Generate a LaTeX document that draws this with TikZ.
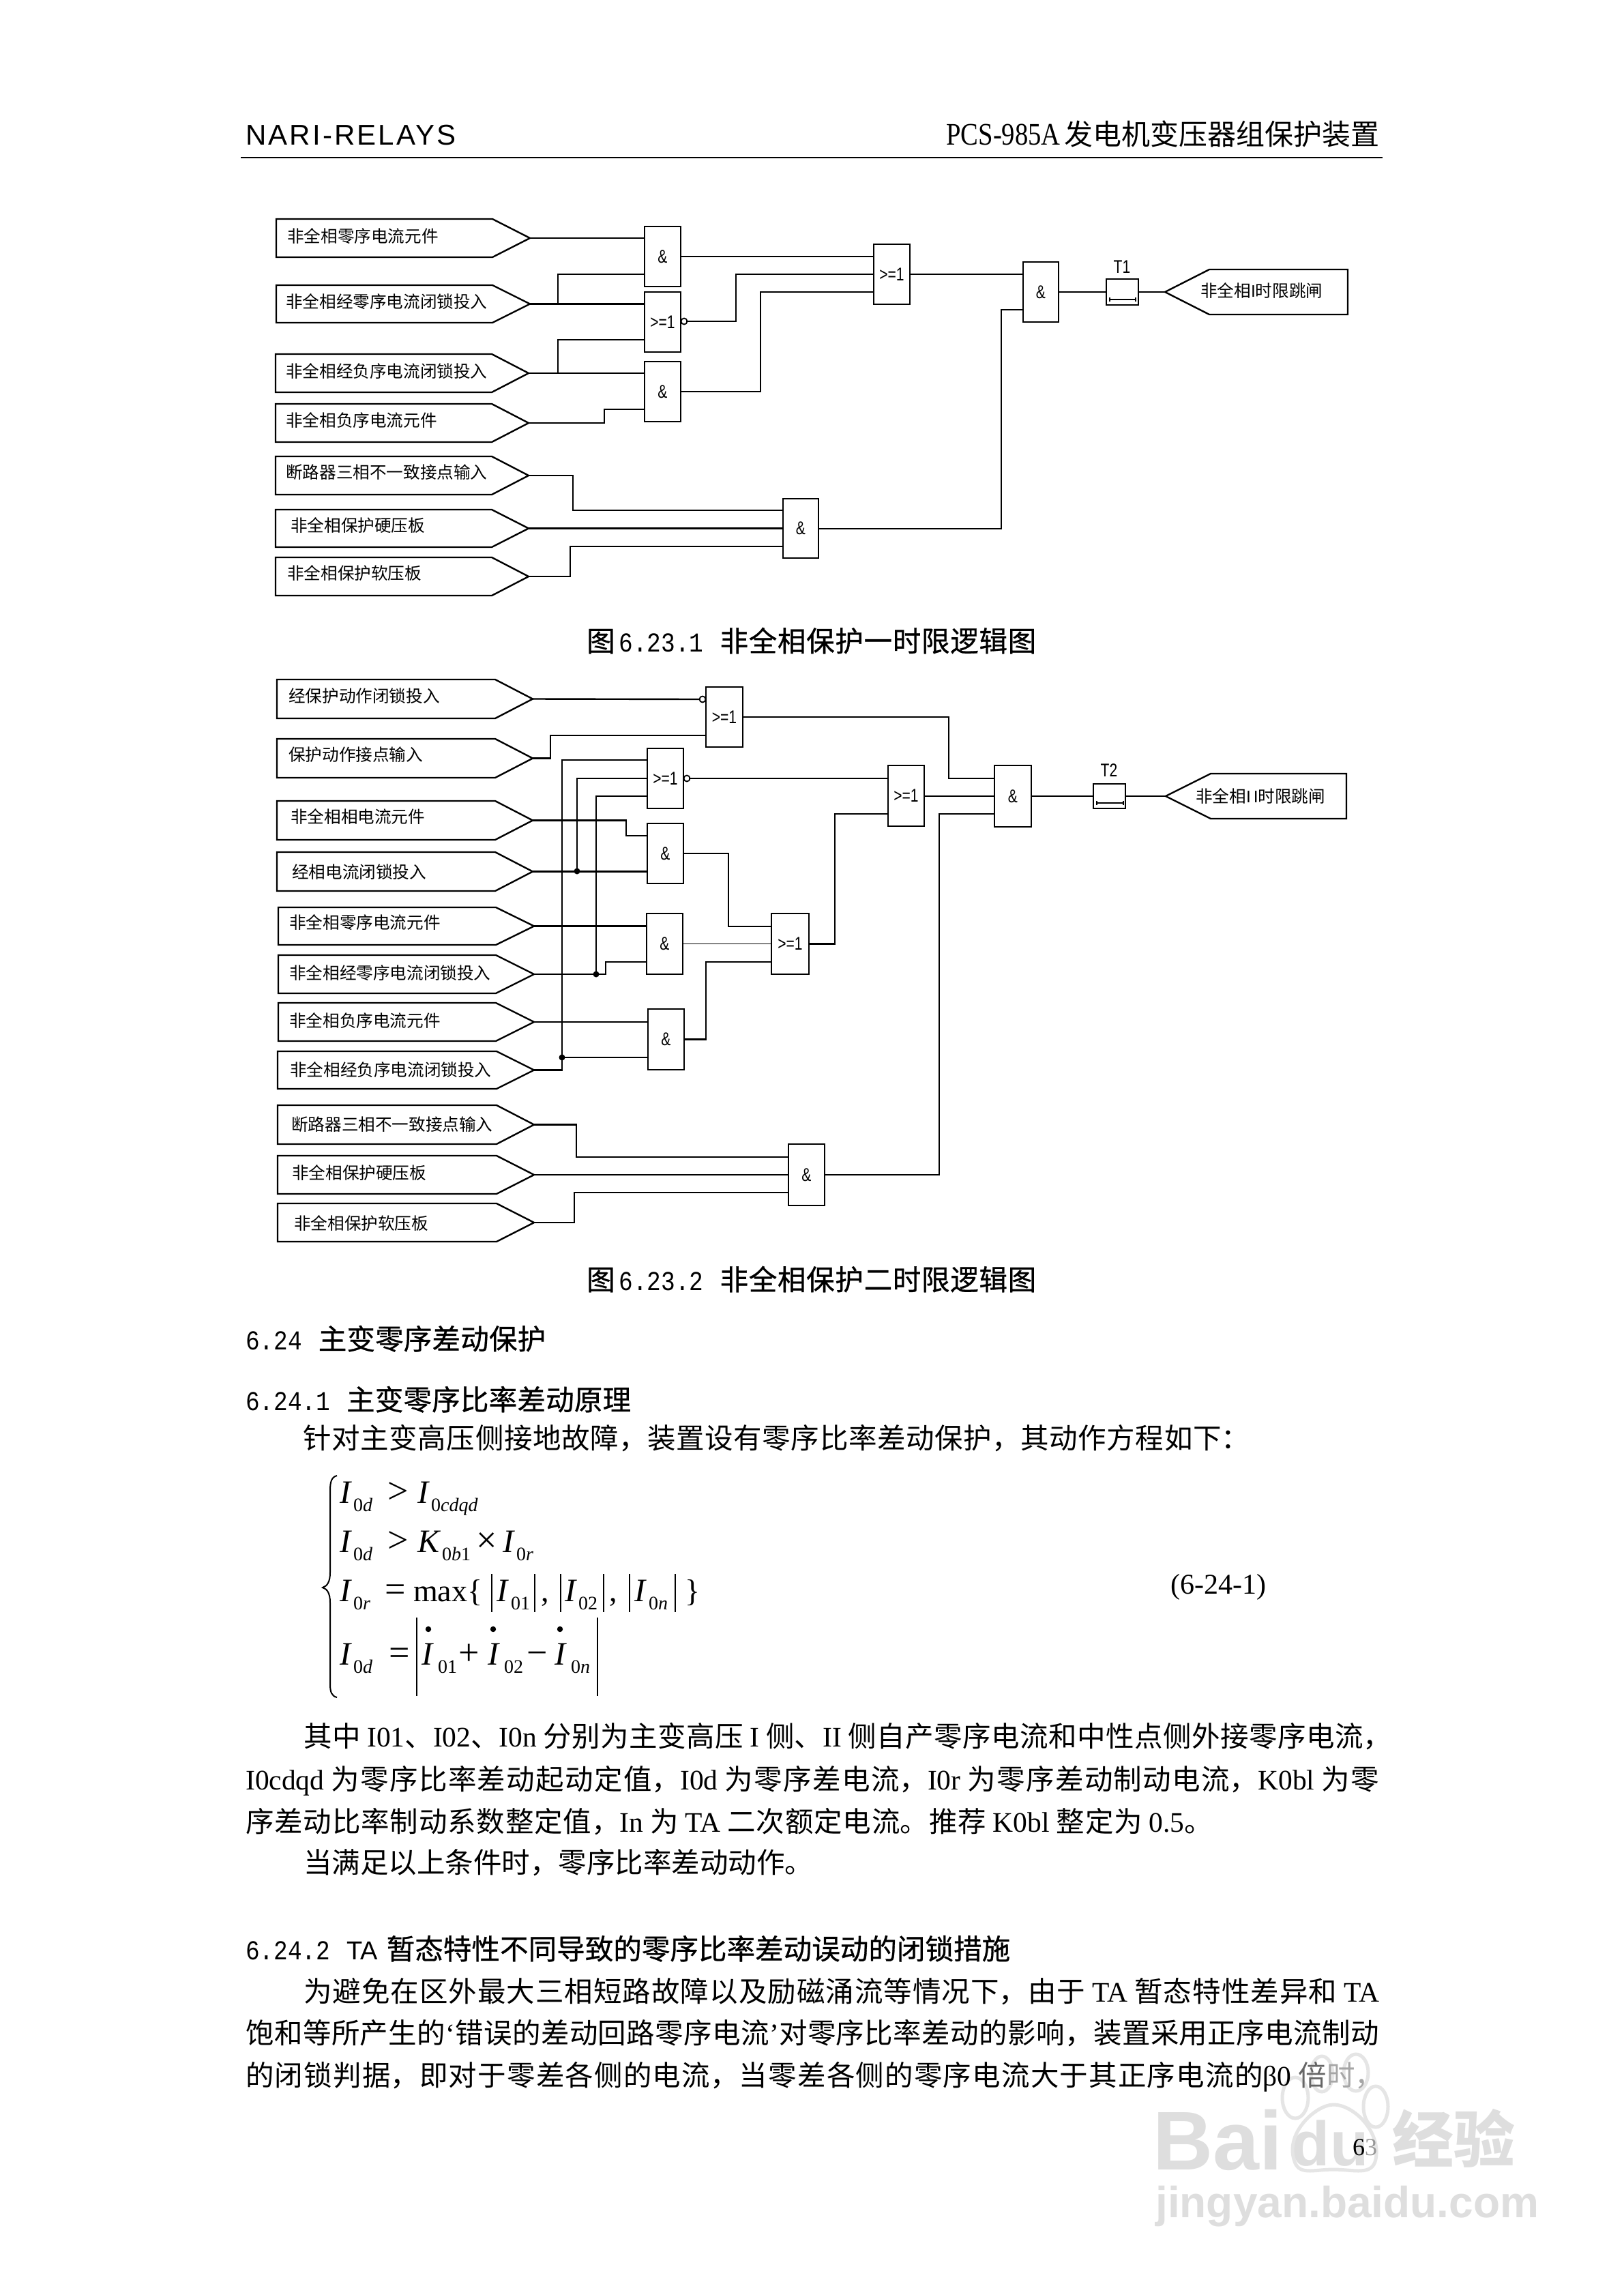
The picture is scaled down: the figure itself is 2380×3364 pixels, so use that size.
\documentclass[tikz,border=0pt]{standalone}
\usepackage{graphicx}
\usepackage{fontspec}
\setmainfont{Noto Sans CJK SC}
\newfontfamily\hei[FakeBold=0.7]{Noto Sans CJK SC}
\newfontfamily\lat{Liberation Serif}
\newfontfamily\sansl{Liberation Sans}
\newfontfamily\mono{Liberation Mono}
\XeTeXlinebreaklocale "zh"
\XeTeXlinebreakskip=0pt plus 6pt minus 1.5pt
\newcommand\szf[1]{\fontsize{#1}{#1}\selectfont}
\newcommand\lw[1]{{\lat #1}}
\newcommand\gtx[1]{\scalebox{.78}[1]{\sansl\szf{27}#1}}
\newcommand\dgt[1]{\scalebox{.86}[1]{\mono\szf{40}#1}}
% one justified line, exactly as wide as #1
\newcommand\jline[2]{\vbox{\hsize=#1\parindent=0pt\parfillskip=0pt\tolerance=10000\hbadness=10000\hfuzz=20pt\linepenalty=5000\szf{41.5}\noindent #2\par}}
\newcounter{tn}
\tikzset{
  wire/.style={line width=2.4pt,line cap=rect,line join=miter},
  thinw/.style={line width=1.8pt,line cap=rect},
  pent/.style={line width=2.4pt,line join=miter},
  gatebox/.style={draw,line width=2.4pt,fill=white,inner sep=0pt,outer sep=0pt},
  lbl/.style={anchor=west,inner sep=0pt,font=\szf{24.6}},
  bub/.style={circle,draw,line width=1.8pt,fill=white,minimum size=9pt,inner sep=0pt,outer sep=0pt},
  jdot/.style={circle,fill=black,minimum size=9pt,inner sep=0pt,outer sep=0pt},
  tlab/.style={inner sep=0pt},
  eqt/.style={inner sep=0pt,anchor=base west},
  wm/.style={inner sep=0pt,text=black!13},
}
% name x1 y1 x2 y2 text
\newcommand\gate[6]{\node[gatebox,minimum width={(#4-#2)*1pt},minimum height={(#5-#3)*1pt}] (#1) at ({(#2+#4)/2},{(#3+#5)/2}) {#6};}
% name left straight tip top bot labelx labely text
\newcommand\inp[9]{\coordinate (#1) at (#4,{(#5+#6)/2});
  \draw[pent] (#2,#5) -- (#3,#5) -- (#1) -- (#3,#6) -- (#2,#6) -- cycle;
  \node[lbl] (#1t) at (#7,#8) {#9};}
% name x1 x2 ycentre text
\newcommand\bodyl[5]{\node[inner sep=0pt,anchor=base west] (#1) at (#2,{#4+15}) {\jline{\dimexpr#3pt-#2pt\relax}{#5}};}
\newcommand\tx[3]{\stepcounter{tn}\node[eqt] (eq\thetn) at (#1,#2) {#3};}
\newcommand\eI{\lat\itshape\szf{48}I}
\newcommand\eK{\lat\itshape\szf{48}K}
\newcommand\eR[1]{\lat\szf{46}#1}
\newcommand\eO[1]{\lat\szf{54}#1}
\newcommand\eS[1]{\lat\szf{28}#1}
\newcommand\ei[1]{\textit{#1}}
\begin{document}
\begin{tikzpicture}[x=1pt,y=-1pt]
\useasboundingbox (0,0) rectangle (2380,3364);
\fill[white] (0,0) rectangle (2380,3364);

% watermark
\node[wm,font=\sansl\bfseries\szf{122},anchor=base west] (wmBai) at (1690,3180) {Bai};
\node[wm,font=\sansl\bfseries\szf{92}] (wmdu) at (1950,3142) {du};
\node[wm,font=\bfseries\szf{90}] (wmjy) at (2131,3134) {经验};
\node[wm,font=\sansl\bfseries\szf{64},anchor=base west] (wmurl) at (1694,3250) {jingyan.baidu.com};
\begin{scope}[black!10,line width=5pt]
\draw (1897,3165) .. controls (1885,3125) and (1930,3085) .. (1955,3085) .. controls (1985,3085) and (2025,3125) .. (2017,3165) .. controls (2012,3190) and (1985,3180) .. (1955,3180) .. controls (1925,3180) and (1903,3190) .. (1897,3165) -- cycle;
\draw (1899,3075) ellipse (19 and 30);
\draw (1938,3040) ellipse (16 and 26);
\draw (1988,3038) ellipse (18 and 27);
\draw (2017,3088) ellipse (18 and 30);
\end{scope}

% header
\node[inner sep=0pt,anchor=base west,font=\sansl\szf{42}] (hdl) at (360,212) {\addfontfeature{LetterSpace=7.5}NARI-RELAYS};
\node[inner sep=0pt,anchor=base east,font=\szf{42}] (hdc) at (2023,212) {发电机变压器组保护装置};
\node[inner sep=0pt,anchor=base east] (hdp) at (1555,212) {\scalebox{.84}[1]{\lat\szf{46}PCS-985A}};
\draw[line width=2.6pt] (353,231) -- (2027,231);

% ------- figure 1
\inp{ia}{405}{722}{777}{321}{377}{421}{346}{非全相零序电流元件}
\inp{ib}{405}{722}{777}{418}{473}{419}{442}{非全相经零序电流闭锁投入}
\inp{ic}{404}{721}{775}{519}{575}{419}{544}{非全相经负序电流闭锁投入}
\inp{id}{404}{721}{775}{592}{648}{419}{616}{非全相负序电流元件}
\inp{ie}{404}{721}{775}{669}{725}{419}{692}{断路器三相不一致接点输入}
\inp{if}{404}{721}{775}{747}{802}{426}{770}{非全相保护硬压板}
\inp{ig}{404}{721}{775}{817}{873}{421}{840}{非全相保护软压板}
\gate{ga}{945}{332}{998}{420}{\gtx{\&}}
\gate{gb}{945}{428}{998}{516}{\gtx{>=1}}
\gate{gc}{945}{530}{998}{618}{\gtx{\&}}
\gate{gd}{1281}{358}{1334}{446}{\gtx{>=1}}
\gate{ge}{1500}{384}{1552}{472}{\gtx{\&}}
\gate{gf}{1148}{731}{1200}{818}{\gtx{\&}}
\gate{tm}{1622}{409}{1669}{447}{}
\node[tlab] (tml) at (1645,391) {\gtx{T1}};
\draw[line width=1.8pt] (1627,436) -- (1627,442) (1627,439) -- (1665,439) (1665,436) -- (1665,442);
\node[bub] (gbb) at (1003,471) {};
\coordinate (oa) at (1708,428);
\draw[pent] (oa) -- (1773,395) -- (1976,395) -- (1976,461) -- (1773,461) -- cycle;
\node[lbl] (oat) at (1760,426) {非全相{\sansl I}时限跳闸};

\draw[wire] (ia) -- (ga.west |- ia);
\draw[wire] (ib) -- (gb.west |- ib);
\draw[wire] (818,446) |- (ga.west |- 0,402);
\draw[wire] (ic) -- (gc.west |- ic);
\draw[wire] (818,547) |- (gb.west |- 0,498);
\draw[wire] (id) -| (886,600) -- (gc.west |- 0,600);
\draw[thinw] (ga.east) -- (gd.west |- ga.east);
\draw[wire] (gbb.east) -| (1079,402) -- (gd.west |- 0,402);
\draw[wire] (gc.east |- 0,574) -| (1115,428) -- (gd.west |- 0,428);
\draw[wire] (gd.east |- 0,402) -- (ge.west |- 0,402);
\draw[wire] (gf.east |- 0,775) -| (1468,454) -- (ge.west |- 0,454);
\draw[wire] (ge.east) -- (tm.west);
\draw[wire] (tm.east) -- (oa);
\draw[wire] (ie) -| (840,748) -- (gf.west |- 0,748);
\draw[wire] (if) -- (gf.west |- if);
\draw[wire] (ig) -| (836,801) -- (gf.west |- 0,801);

\bodyl{cap1}{860}{1519}{940}{\hei 图\hspace*{6pt}\dgt{6.23.1}\hspace*{24pt}非全相保护一时限逻辑图}

% ------- figure 2
\inp{ja}{406}{726}{781}{996}{1053}{423}{1020}{经保护动作闭锁投入}
\inp{jb}{406}{726}{781}{1083}{1140}{423}{1106}{保护动作接点输入}
\inp{jc}{406}{726}{781}{1174}{1231}{426}{1197}{非全相相电流元件}
\inp{jd}{406}{726}{781}{1249}{1306}{428}{1278}{经相电流闭锁投入}
\inp{je}{408}{727}{783}{1330}{1385}{424}{1352}{非全相零序电流元件}
\inp{jf}{408}{727}{783}{1400}{1456}{424}{1426}{非全相经零序电流闭锁投入}
\inp{jg}{408}{727}{783}{1470}{1526}{424}{1496}{非全相负序电流元件}
\inp{jh}{407}{728}{783}{1541}{1596}{425}{1568}{非全相经负序电流闭锁投入}
\inp{ji}{407}{728}{783}{1620}{1677}{427}{1648}{断路器三相不一致接点输入}
\inp{jj}{407}{728}{783}{1694}{1750}{428}{1719}{非全相保护硬压板}
\inp{jk}{407}{728}{783}{1764}{1820}{431}{1793}{非全相保护软压板}
\gate{ka}{1035}{1007}{1089}{1095}{\gtx{>=1}}
\gate{kb}{949}{1097}{1002}{1185}{\gtx{>=1}}
\gate{kc}{949}{1207}{1002}{1295}{\gtx{\&}}
\gate{kd}{948}{1339}{1001}{1428}{\gtx{\&}}
\gate{ke}{1131}{1339}{1186}{1428}{\gtx{>=1}}
\gate{kf}{950}{1479}{1003}{1568}{\gtx{\&}}
\gate{kg}{1302}{1122}{1355}{1211}{\gtx{>=1}}
\gate{kh}{1458}{1122}{1512}{1212}{\gtx{\&}}
\gate{ki}{1156}{1677}{1209}{1767}{\gtx{\&}}
\gate{tn}{1603}{1149}{1650}{1185}{}
\node[tlab] (tnl) at (1626,1129) {\gtx{T2}};
\draw[line width=1.8pt] (1608,1174) -- (1608,1180) (1608,1177) -- (1647,1177) (1647,1174) -- (1647,1180);
\node[bub] (kab) at (1030,1025) {};
\node[bub] (kbb) at (1007,1141) {};
\coordinate (ob) at (1709,1167);
\draw[pent] (ob) -- (1775,1134) -- (1974,1134) -- (1974,1200) -- (1775,1200) -- cycle;
\node[lbl] (obt) at (1753,1167) {非全相{\sansl I\,I}时限跳闸};

\draw[wire] (ja) -- (kab.west);
\draw[wire] (jb) -| (807,1078) -- (ka.west |- 0,1078);
\draw[wire] (ka.east) -| (1391,1141) -- (kh.west |- 0,1141);
\draw[wire] (jh) -| (824,1114) -- (kb.west |- 0,1114);
\draw[wire] (jd) -- (kc.west |- jd);
\node[jdot] (d1) at (846,1277) {};
\draw[wire] (d1) -- (846,1141) -- (kb.west |- 0,1141);
\node[jdot] (d2) at (874,1428) {};
\draw[wire] (jf) -| (888,1410) -- (kd.west |- 0,1410);
\draw[wire] (d2) -- (874,1167) -- (kb.west |- 0,1167);
\draw[wire] (kbb.east) -- (kg.west |- kbb.east);
\draw[wire] (jc) -| (918,1225) -- (kc.west |- 0,1225);
\draw[wire] (kc.east) -| (1068,1358) -- (ke.west |- 0,1358);
\draw[wire] (je) -- (kd.west |- je);
\draw[thinw] (kd.east) -- (ke.west |- kd.east);
\draw[wire] (jg) -- (kf.west |- jg);
\node[jdot] (d3) at (824,1550) {};
\draw[wire] (d3) -- (kf.west |- d3);
\draw[wire] (kf.east) -| (1035,1410) -- (ke.west |- 0,1410);
\draw[wire] (ke.east) -| (1224,1193) -- (kg.west |- 0,1193);
\draw[wire] (kg.east |- 0,1167) -- (kh.west |- 0,1167);
\draw[wire] (ki.east |- 0,1722) -| (1377,1193) -- (kh.west |- 0,1193);
\draw[wire] (kh.east |- 0,1167) -- (tn.west);
\draw[thinw] (tn.east) -- (ob);
\draw[wire] (ji) -| (845,1696) -- (ki.west |- 0,1696);
\draw[wire] (jj) -- (ki.west |- jj);
\draw[wire] (jk) -| (842,1748) -- (ki.west |- 0,1748);

\bodyl{cap2}{860}{1519}{1876}{\hei 图\hspace*{6pt}\dgt{6.23.2}\hspace*{24pt}非全相保护二时限逻辑图}

% ------- text
\bodyl{s1}{360}{800}{1963}{\hei \dgt{6.24}\hspace*{24pt}主变零序差动保护}
\bodyl{s2}{360}{925}{2052}{\hei \dgt{6.24.1}\hspace*{24pt}主变零序比率差动原理}
\bodyl{p0}{444}{1832}{2108}{针对主变高压侧接地故障，装置设有零序比率差动保护，其动作方程如下：}

% equation
\draw[line width=2pt] (494,2163) .. controls (486,2165) and (484,2172) .. (484,2185) -- (484,2305) .. controls (484,2318) and (480,2325) .. (473,2327) .. controls (480,2329) and (484,2336) .. (484,2349) -- (484,2468) .. controls (484,2480) and (486,2486) .. (494,2488);
\tx{498}{2203}{\eI}\tx{518}{2215}{\eS{0\ei{d}}}\tx{568}{2203}{\eO{>}}\tx{612}{2203}{\eI}\tx{632}{2215}{\eS{0\ei{cdqd}}}
\tx{498}{2275}{\eI}\tx{518}{2287}{\eS{0\ei{d}}}\tx{568}{2275}{\eO{>}}\tx{612}{2275}{\eK}\tx{648}{2287}{\eS{0\ei{b}1}}\tx{698}{2275}{\eO{×}}\tx{737}{2275}{\eI}\tx{757}{2287}{\eS{0\ei{r}}}
\tx{498}{2347}{\eI}\tx{518}{2359}{\eS{0\ei{r}}}\tx{564}{2347}{\eO{=}}\tx{606}{2347}{\eR{max\{}}
\tx{728}{2347}{\eI}\tx{749}{2359}{\eS{01}}\tx{793}{2347}{\eR{,}}
\tx{828}{2347}{\eI}\tx{848}{2359}{\eS{02}}\tx{893}{2347}{\eR{,}}
\tx{930}{2347}{\eI}\tx{951}{2359}{\eS{0\ei{n}}}\tx{1004}{2347}{\eR{\}}}
\draw[line width=1.6pt] (721,2307) -- (721,2363) (784,2307) -- (784,2363) (822,2307) -- (822,2363) (885,2307) -- (885,2363) (923,2307) -- (923,2363) (990,2307) -- (990,2363);
\tx{498}{2440}{\eI}\tx{518}{2452}{\eS{0\ei{d}}}\tx{570}{2440}{\eO{=}}
\tx{618}{2440}{\eI}\tx{642}{2452}{\eS{01}}\tx{672}{2440}{\eO{+}}
\tx{715}{2440}{\eI}\tx{739}{2452}{\eS{02}}\tx{772}{2440}{\eO{−}}
\tx{813}{2440}{\eI}\tx{837}{2452}{\eS{0\ei{n}}}
\fill (628,2388) circle (4.2) (723,2388) circle (4.2) (821,2388) circle (4.2);
\draw[line width=1.4pt] (611,2371) -- (611,2486) (876,2371) -- (876,2486);
\node[inner sep=0pt,font=\lat\szf{42}] (eqno) at (1786,2326) {(6-24-1)};

\bodyl{p1}{445}{2040}{2545}{其中 \lw{I01}、\lw{I02}、\lw{I0n} 分别为主变高压 \lw{I} 侧、\lw{II} 侧自产零序电流和中性点侧外接零序电流，}
\bodyl{p2}{360}{2022}{2608}{\lw{I0cdqd} 为零序比率差动起动定值，\lw{I0d} 为零序差电流，\lw{I0r} 为零序差动制动电流，\lw{K0bl} 为零}
\bodyl{p3}{360}{1778}{2670}{序差动比率制动系数整定值，\lw{In} 为 \lw{TA} 二次额定电流。推荐 \lw{K0bl} 整定为 \lw{0.5}。}
\bodyl{p4}{445}{1192}{2730}{当满足以上条件时，零序比率差动动作。}
\bodyl{s3}{360}{1481}{2857}{\hei \dgt{6.24.2}\hspace*{24pt}{\sansl\szf{38}TA}\hspace*{13pt}暂态特性不同导致的零序比率差动误动的闭锁措施}
\bodyl{p5}{445}{2022}{2919}{为避免在区外最大三相短路故障以及励磁涌流等情况下，由于 \lw{TA} 暂态特性差异和 \lw{TA}}
\bodyl{p6}{360}{2022}{2980}{饱和等所产生的\lw{‘}错误的差动回路零序电流\lw{’}对零序比率差动的影响，装置采用正序电流制动}
\bodyl{p7}{360}{2028}{3042}{的闭锁判据，即对于零差各侧的电流，当零差各侧的零序电流大于其正序电流的\lw{β0} \textcolor{black!60}{倍}\textcolor{black!35}{时，}}
\node[inner sep=0pt,anchor=base west,font=\lat\szf{36}] (pgno) at (1983,3159) {6\textcolor{black!40}{3}};
\end{tikzpicture}
\end{document}
